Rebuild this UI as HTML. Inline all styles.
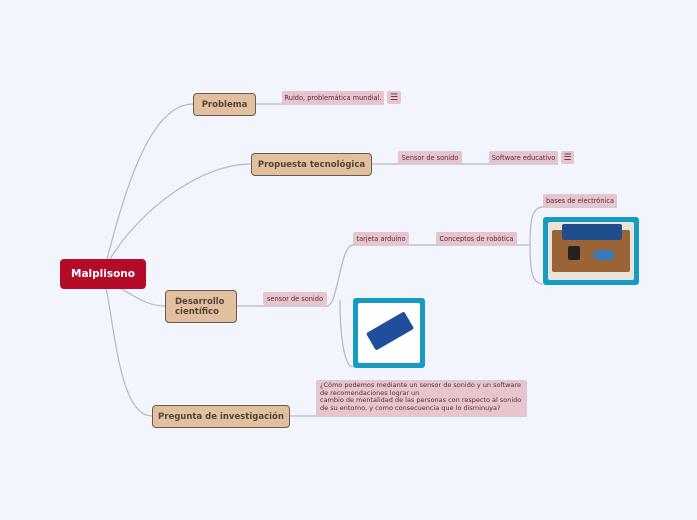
<!DOCTYPE html>
<html><head><meta charset="utf-8"><style>
body{margin:0;width:697px;height:520px;background:#f2f5fe;position:relative;overflow:hidden;font-family:"DejaVu Sans","Liberation Sans",sans-serif}
.n{position:absolute;box-sizing:border-box;background:#e2bf9e;border:1px solid #6b5a4a;border-radius:4px;color:#514536;font-weight:bold;font-size:8.5px;display:flex;align-items:center;justify-content:center}
.l{position:absolute;box-sizing:border-box;background:#e6c6cc;border-radius:2px;color:#5c2a35;font-size:6.6px;display:flex;align-items:center;justify-content:center;white-space:nowrap}
.ic{position:absolute;background:#e6c6cc;border-radius:2px;color:#6a2a3a;font-size:9px;display:flex;align-items:center;justify-content:center}
.img{position:absolute;box-sizing:border-box;background:#169cc0;border-radius:3px;padding:5px}
.img div{width:100%;height:100%;background:#fff;border-radius:2px;position:relative}
</style></head><body>
<svg width="697" height="520" style="position:absolute;left:0;top:0" fill="none" stroke="#b8b8bc" stroke-width="1.2">
<path d="M107 259 C125 190 150 104 193 104"/>
<path d="M110 259 C140 210 200 164 251 164"/>
<path d="M120 288 C140 300 150 306 165 306"/>
<path d="M106 288 C115 330 120 416 152 416"/>
<path d="M256 104 L282 104 L384 104"/>
<path d="M371 164 L398 164 L462 164 L489 164 L558 164"/>
<path d="M237 306 L263 306 L327 306"/>
<path d="M327 306 C338 306 340 245 353 245 L409 245 L436 245 L517 245"/>
<path d="M340 300 C340 340 345 367 353 367"/>
<path d="M517 245 L530 245 C530 220 532 207 543 207 L617 207"/>
<path d="M530 245 C530 270 532 284 543 284"/>
<path d="M289 416 L316 416 L527 416"/>
</svg>
<div class="n" style="left:60px;top:259px;width:86px;height:30px;background:#b30b28;border:none;color:#fff;font-size:10.5px">Malplisono</div>
<div class="n" style="left:193px;top:93px;width:63px;height:23px">Problema</div>
<div class="n" style="left:251px;top:153px;width:121px;height:23px">Propuesta tecnológica</div>
<div class="n" style="left:165px;top:290px;width:72px;height:33px;justify-content:flex-start;padding-left:9px;line-height:10px">Desarrollo<br>científico</div>
<div class="n" style="left:152px;top:405px;width:138px;height:23px">Pregunta de investigación</div>
<div class="l" style="left:282px;top:91px;width:102px;height:13px">Ruido, problemática mundial.</div>
<div class="ic" style="left:387px;top:91px;width:14px;height:13px">☰</div>
<div class="l" style="left:398px;top:151px;width:64px;height:13px">Sensor de sonido</div>
<div class="l" style="left:489px;top:151px;width:69px;height:13px">Software educativo</div>
<div class="ic" style="left:561px;top:151px;width:13px;height:13px">☰</div>
<div class="l" style="left:263px;top:292px;width:64px;height:13px">sensor de sonido</div>
<div class="l" style="left:353px;top:232px;width:56px;height:13px">tarjeta arduino</div>
<div class="l" style="left:436px;top:232px;width:81px;height:13px">Conceptos de robótica</div>
<div class="l" style="left:543px;top:194px;width:74px;height:13px">bases de electrónica</div>
<div class="l" style="left:316px;top:380px;width:211px;height:36px;display:block;white-space:normal;padding:2px 4px;line-height:7.5px;font-size:6.5px">¿Cómo podemos mediante un sensor de sonido y un software de recomendaciones lograr un<br>cambio de mentalidad de las personas con respecto al sonido de su entorno, y como consecuencia que lo disminuya?</div>
<div class="img" style="left:543px;top:217px;width:96px;height:68px"><div style="background:#e8e4dc">
<div style="position:absolute;left:4px;top:8px;width:78px;height:42px;background:#9a6436;border-radius:2px"></div>
<div style="position:absolute;left:14px;top:2px;width:60px;height:16px;background:#1f4e8a"></div>
<div style="position:absolute;left:20px;top:24px;width:12px;height:14px;background:#222"></div>
<div style="position:absolute;left:46px;top:28px;width:20px;height:10px;background:#3a7ab8;border-radius:3px"></div>
</div></div>
<div class="img" style="left:353px;top:298px;width:72px;height:70px"><div>
<div style="position:absolute;left:10px;top:18px;width:44px;height:20px;background:#1f4e9a;transform:rotate(-30deg)"></div>
</div></div>
</body></html>
